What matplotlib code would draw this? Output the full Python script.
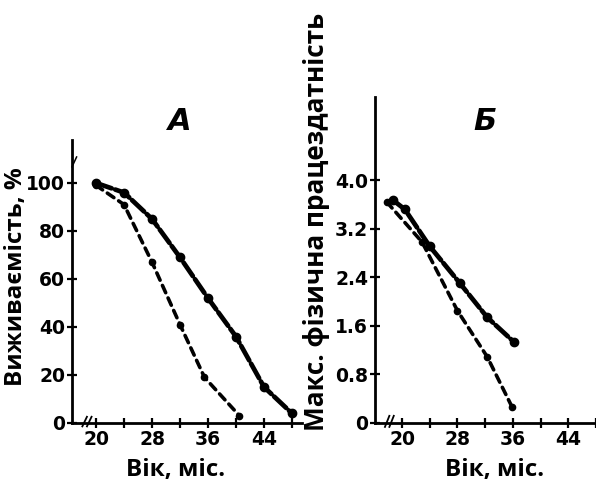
import matplotlib
matplotlib.use("Agg")
import matplotlib.pyplot as plt

# Panel A: survival, %
age_a_solid = [20, 24, 28, 32, 36, 40, 44, 48]
surv_a_solid = [100, 96, 85, 69, 52, 36, 15, 4]
age_a_dash = [20, 24, 28, 32, 35.5, 40.5]
surv_a_dash = [99, 91, 67, 41, 19, 3]

# Panel B: max physical working capacity
age_b_solid = [18.7, 20.4, 24, 28.3, 32.3, 36.2]
work_b_solid = [3.67, 3.52, 2.91, 2.31, 1.74, 1.33]
age_b_dash = [17.8, 22.9, 28, 32.3, 35.9]
work_b_dash = [3.64, 2.98, 1.85, 1.09, 0.26]

xticks = [20, 24, 28, 32, 36, 40, 44, 48]
xticklabels = ["20", "", "28", "", "36", "", "44", ""]
yticks_a = [0, 20, 40, 60, 80, 100]
yticks_b = [0, 0.8, 1.6, 2.4, 3.2, 4.0]
yticklabels_b = ["0", "0.8", "1.6", "2.4", "3.2", "4.0"]

plt.rcParams['font.family'] = ['DejaVu Sans']
W, H = 596, 484
fig = plt.figure(figsize=(W/100, H/100), dpi=100)

def px(l, b, r, t):
    return [l/W, (H-b)/H, (r-l)/W, (b-t)/H]

axA = fig.add_axes(px(72, 423, 302, 140))
axB = fig.add_axes(px(375, 423, 596, 97))

solid_style = dict(color='black', lw=3.4, linestyle=(0, (3.5, 0.8)), marker='o',
                   ms=6, dash_capstyle='round')
dash_style = dict(color='black', lw=2.6, linestyle=(0, (2.2, 1.6)), marker='o',
                  ms=4.5, dash_capstyle='round')

axA.plot(age_a_solid, surv_a_solid, **solid_style)
axA.plot(age_a_dash, surv_a_dash, **dash_style)
axB.plot(age_b_solid, work_b_solid, **solid_style)
axB.plot(age_b_dash, work_b_dash, **dash_style)

tickfont = dict(fontsize=13.5, fontweight='bold')
labfont = dict(fontsize=17.5, fontweight='bold', family=['Open Sans', 'DejaVu Sans'])
for ax in (axA, axB):
    for s in ('top', 'right'):
        ax.spines[s].set_visible(False)
    for s in ('left', 'bottom'):
        ax.spines[s].set_linewidth(2)
    ax.set_xticks(xticks)
    ax.set_xticklabels(xticklabels, **tickfont)
    ax.tick_params(axis='both', direction='inout', length=7, width=1.6, pad=1.5)
    ax.set_xlabel("Вік, міс.", **labfont)
    # axis break marks
    ax.plot([0.045, 0.065], [-0.012, 0.022], transform=ax.transAxes, color='black', lw=1.3, clip_on=False)
    ax.plot([0.065, 0.085], [-0.012, 0.022], transform=ax.transAxes, color='black', lw=1.3, clip_on=False)

axA.set_xlim(16.57, 49.43)
axA.set_ylim(0, 117.9)
axA.set_yticks(yticks_a)
axA.set_yticklabels([str(v) for v in yticks_a], **tickfont)
axA.set_ylabel("Виживаємість, %", va='center', **labfont)
axA.yaxis.set_label_coords((16 - 72) / 230, (423 - 277) / 283)
axA.xaxis.set_label_coords((176 - 72) / 230, (423 - 470) / 283)
axA.xaxis.label.set_va('center')
axA.plot([0.0, 0.02], [0.905, 0.94], transform=axA.transAxes, color='black', lw=1.1, clip_on=False)

axB.set_xlim(16.1, 48.0)
axB.set_ylim(0, 5.37)
axB.set_yticks(yticks_b)
axB.set_yticklabels(yticklabels_b, **tickfont)
axB.set_ylabel("Макс. фізична працездатність", va='center', fontsize=18.8, fontweight='bold',
               family=['Open Sans', 'DejaVu Sans'])
axB.yaxis.set_label_coords((317 - 375) / 221, (423 - 222) / 326)
axB.xaxis.set_label_coords((495 - 375) / 221, (423 - 470) / 326)
axB.xaxis.label.set_va('center')

fig.text(180/W, 1 - 122/H, "A", fontsize=22, fontweight='heavy', style='italic', ha='center', va='center')
fig.text(485/W, 1 - 122/H, "Б", fontsize=22, fontweight='heavy', style='italic', ha='center', va='center')

fig.savefig("out.png", dpi=100)
